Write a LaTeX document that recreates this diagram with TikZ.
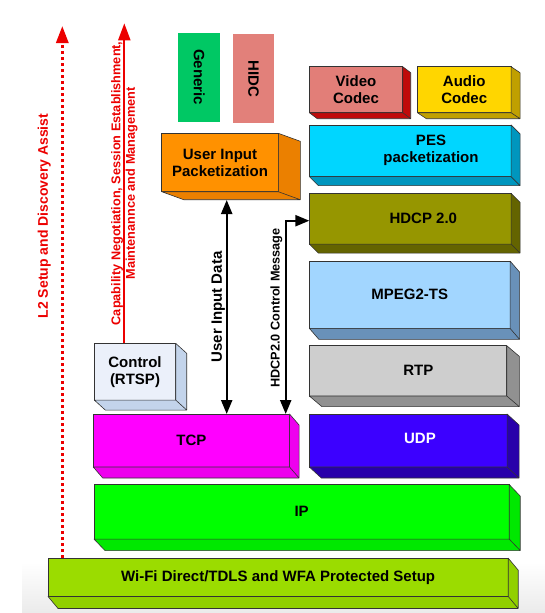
\documentclass[tikz,border=0pt]{standalone}
\usepackage{fontspec}
\setmainfont{Liberation Sans}
\usetikzlibrary{arrows.meta, calc, positioning}

\definecolor{redline}{RGB}{236,0,0}
\definecolor{genfill}{RGB}{0,200,100}
\definecolor{hidcfill}{RGB}{226,128,122}
\definecolor{vidfront}{RGB}{226,126,120}
\definecolor{vidside}{RGB}{192,10,10}
\definecolor{audfront}{RGB}{255,214,0}
\definecolor{audside}{RGB}{192,160,0}
\definecolor{pesfront}{RGB}{0,214,255}
\definecolor{pesside}{RGB}{0,150,190}
\definecolor{hdcpfront}{RGB}{150,150,0}
\definecolor{hdcpside}{RGB}{100,100,0}
\definecolor{mpegfront}{RGB}{162,214,255}
\definecolor{mpegside}{RGB}{105,145,185}
\definecolor{rtpfront}{RGB}{206,206,206}
\definecolor{rtpside}{RGB}{145,145,145}
\definecolor{udpfront}{RGB}{60,0,255}
\definecolor{udpside}{RGB}{40,0,170}
\definecolor{tcpfront}{RGB}{255,0,255}
\definecolor{tcpside}{RGB}{238,0,238}
\definecolor{ipfront}{RGB}{0,255,0}
\definecolor{ipside}{RGB}{0,232,0}
\definecolor{wififront}{RGB}{155,220,0}
\definecolor{wifiside}{RGB}{145,208,0}
\definecolor{ctrlfront}{RGB}{235,240,250}
\definecolor{ctrlside}{RGB}{195,212,235}
\definecolor{uipfront}{RGB}{255,145,0}
\definecolor{uipside}{RGB}{235,128,0}

% side and bottom faces of a layer box
\newcommand{\extrude}[4]{%
  \filldraw[fill=#4, draw=black!80, line width=0.6pt, line join=round]
    (#1.north east) -- ++(#2,#3) -- ($(#1.south east)+(#2,#3)$) -- (#1.south east) -- cycle
    (#1.south west) -- (#1.south east) -- ($(#1.south east)+(#2,#3)$) -- ($(#1.south west)+(#2,#3)$) -- cycle;}

\begin{document}
\begin{tikzpicture}[x=1pt, y=-1pt,
    layer/.style={draw=black!80, line width=0.6pt, outer sep=0pt, inner sep=0pt,
      align=center, font=\bfseries\fontsize{15}{17}\selectfont},
    tag/.style={align=center, font=\bfseries\fontsize{15}{17}\selectfont},
    datarrow/.style={{Triangle[length=14pt,width=11pt]}-{Triangle[length=14pt,width=11pt]}, line width=2.2pt},
    l2arrow/.style={-{Triangle[length=17pt,width=12pt]}, redline, line width=3pt, dash pattern=on 3.5pt off 2.5pt},
    caparrow/.style={-{Triangle[length=17pt,width=12pt]}, redline, line width=2.2pt},
    redtext/.style={text=redline, font=\bfseries\fontsize{#1}{14.5}\selectfont}]
  \useasboundingbox (0,0) rectangle (545,613);
  \shade[top color=white, bottom color=black!8] (22,562) rectangle (545,613);

  % application side
  \node[layer, draw=none, fill=genfill, minimum width=41.7, minimum height=89] (gen) at (199.2,77.2) {};
  \node[tag, rotate=-90] (gen-t) at (gen) {Generic};
  \node[layer, draw=none, fill=hidcfill, minimum width=41.6, minimum height=89] (hidc) at (253.5,78.8) {};
  \node[tag, rotate=-90] (hidc-t) at (hidc) {HIDC};
  \node[layer, fill=uipfront, minimum width=116.6, minimum height=58.4] (uip) at (220,162.5) {User Input\\Packetization};
  \extrude{uip}{22}{8}{uipside}

  % media stack
  \node[layer, fill=vidfront, minimum width=93.4, minimum height=46] (vid) at (356,89.7) {Video\\Codec};
  \extrude{vid}{8}{6}{vidside}
  \node[layer, fill=audfront, minimum width=93.7, minimum height=46] (aud) at (464.2,89.7) {Audio\\Codec};
  \extrude{aud}{9}{6}{audside}
  \node[layer, fill=pesfront, minimum width=201.7, minimum height=51.7] (pes) at (410.2,150.8) {};
  \extrude{pes}{9}{9}{pesside}
  \node[tag] (pes-t) at (431,150) {PES\\packetization};
  \node[layer, fill=hdcpfront, minimum width=201.7, minimum height=50.7] (hdcp) at (410.2,218.7) {};
  \extrude{hdcp}{9}{9}{hdcpside}
  \node[tag] (hdcp-t) at (423.3,218) {HDCP 2.0};
  \node[layer, fill=mpegfront, minimum width=200.7, minimum height=67.3] (mpeg) at (409.7,294.7) {MPEG2-TS};
  \extrude{mpeg}{9.5}{11}{mpegside}
  \node[layer, fill=rtpfront, minimum width=197.4, minimum height=50.3] (rtp) at (408,370.8) {};
  \extrude{rtp}{12.6}{10.7}{rtpside}
  \node[tag] (rtp-t) at (418.3,370.7) {RTP};
  \node[layer, fill=udpfront, minimum width=197.7, minimum height=53] (udp) at (408.2,440.5) {};
  \extrude{udp}{12}{11}{udpside}
  \node[tag, text=white] (udp-t) at (420,438.5) {UDP};

  % control and transport
  \node[layer, fill=ctrlfront, minimum width=81.4, minimum height=56.7] (ctrl) at (135,371.7) {Control\\(RTSP)};
  \extrude{ctrl}{11}{10}{ctrlside}
  \node[layer, fill=tcpfront, minimum width=196.3, minimum height=53] (tcp) at (191.4,440.5) {TCP};
  \extrude{tcp}{9.5}{11}{tcpside}
  \node[layer, fill=ipfront, minimum width=415.2, minimum height=54.5] (ip) at (301.6,511.8) {IP};
  \extrude{ip}{11}{11.5}{ipside}
  \node[layer, fill=wififront, minimum width=460.2, minimum height=38.3] (wifi) at (278.1,577.3) {Wi-Fi Direct/TDLS and WFA Protected Setup};
  \extrude{wifi}{10}{12}{wifiside}

  \coordinate (l2top) at (62.3,26);
  \coordinate (captop) at (124.3,23.3);
  \coordinate (uipbot) at (226.7,200);
  \coordinate (hcbot) at (285.7,414);

  \draw[l2arrow] (l2top |- wifi.north) -- node[pos=0.643, rotate=90, anchor=south, inner sep=10pt, redtext=14] {L2 Setup and Discovery Assist} (l2top);
  \draw[caparrow] (captop |- ctrl.north) -- node[midway, rotate=90, align=center, redtext=12.7] {Capability Negotiation, Session Establishment,\\Maintenannce and Management} (captop);
  \draw[datarrow] (uipbot) -- node[midway, rotate=90, anchor=south, inner sep=0.5pt, tag] {User Input Data} (uipbot |- tcp.north);
  \draw[datarrow] (hcbot |- tcp.north) |- node[pos=0.274, rotate=90, anchor=south, inner sep=2.4pt, font=\bfseries\fontsize{12.7}{14}\selectfont] {HDCP2.0 Control Message} ($(hdcp.west)+(0,2)$);
\end{tikzpicture}
\end{document}
